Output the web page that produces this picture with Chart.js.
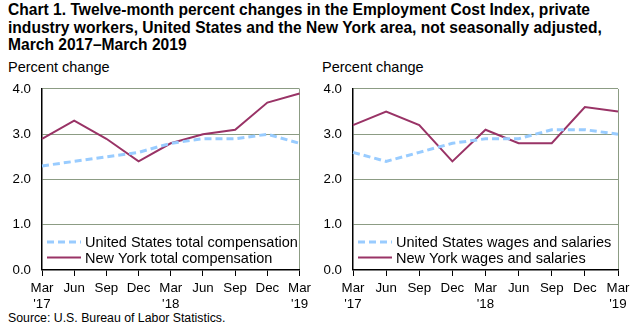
<!DOCTYPE html>
<html>
<head>
<meta charset="utf-8">
<script src="https://cdn.jsdelivr.net/npm/chart.js@4"></script>
<style>
  body { margin: 0; background: #fff; width: 639px; height: 329px; position: relative; overflow: hidden; font-family: "Liberation Sans", Arial, sans-serif; }
  #title { position: absolute; left: 8px; top: 1px; font-weight: bold; font-size: 15.6px; line-height: 17.5px; color: #000; }
  .ylab { position: absolute; top: 59px; font-size: 14.5px; color: #000; }
  #source { position: absolute; left: 8px; top: 311px; font-size: 12.3px; color: #000; }
  .box { position: absolute; top: 70px; height: 240px; }
</style>
</head>
<body>
<div id="title">Chart 1. Twelve-month percent changes in the Employment Cost Index, private<br>industry workers, United States and the New York area, not seasonally adjusted,<br>March 2017–March 2019</div>
<div class="ylab" style="left:8px">Percent change</div>
<div class="ylab" style="left:322px">Percent change</div>
<div class="box" style="left:0px;width:315px"><canvas id="leftChart"></canvas></div>
<div class="box" style="left:315px;width:324px"><canvas id="rightChart"></canvas></div>
<div id="source">Source: U.S. Bureau of Labor Statistics.</div>

<script>
// data
var quarters = [["Mar", "'17"], "Jun", "Sep", "Dec", ["Mar", "'18"], "Jun", "Sep", "Dec", ["Mar", "'19"]];
var yTicks = [0, 1, 2, 3, 4];

var usTotal = [2.3, 2.4, 2.5, 2.6, 2.8, 2.9, 2.9, 3.0, 2.8];
var nyTotal = [2.9, 3.3, 2.9, 2.4, 2.8, 3.0, 3.1, 3.7, 3.9];
var usWages = [2.6, 2.4, 2.6, 2.8, 2.9, 2.9, 3.1, 3.1, 3.0];
var nyWages = [3.2, 3.5, 3.2, 2.4, 3.1, 2.8, 2.8, 3.6, 3.5];

var blue = "#99CCFF";
var purple = "#993366";
var gridGreen = "#8C9C84";

// draws the legend inside the plot, bottom left
var innerLegend = {
  id: "innerLegend",
  afterDraw: function (chart) {
    var ctx = chart.ctx;
    var area = chart.chartArea;
    ctx.save();
    ctx.font = "14.5px 'Liberation Sans', Arial, sans-serif";
    ctx.textBaseline = "middle";
    chart.data.datasets.forEach(function (ds, i) {
      var y = area.bottom - 28 + i * 15.5;
      ctx.beginPath();
      ctx.strokeStyle = ds.borderColor;
      ctx.lineWidth = ds.borderWidth;
      ctx.setLineDash(ds.borderDash || []);
      ctx.moveTo(area.left + 5, y);
      ctx.lineTo(area.left + 39, y);
      ctx.stroke();
      ctx.setLineDash([]);
      ctx.fillStyle = "#000";
      ctx.fillText(ds.label, area.left + 43, y + 1);
    });
    ctx.restore();
  }
};

function makeChart(id, usData, nyData, usLabel, nyLabel, axisWidth, padRight) {
  return new Chart(id, {
    type: "line",
    data: {
      labels: quarters,
      datasets: [
        { label: usLabel, data: usData, borderColor: blue, borderWidth: 3, borderDash: [7, 4], pointRadius: 0, tension: 0 },
        { label: nyLabel, data: nyData, borderColor: purple, borderWidth: 2, pointRadius: 0, tension: 0 }
      ]
    },
    options: {
      responsive: true,
      maintainAspectRatio: false,
      animation: false,
      layout: { padding: { top: 0, right: padRight, left: 0, bottom: 0 } },
      plugins: { legend: { display: false }, tooltip: { enabled: false } },
      scales: {
        x: {
          offset: false,
          grid: {
            color: function (c) { return c.index === quarters.length - 1 ? gridGreen : "rgba(0,0,0,0)"; },
            tickColor: "#000",
            tickLength: 6,
            lineWidth: 1
          },
          border: { color: "#000", width: 1.5 },
          ticks: { color: "#000", font: { size: 13.3, family: "'Liberation Sans', Arial, sans-serif" }, maxRotation: 0, autoSkip: false, padding: 4 },
          afterFit: function (s) { s.height = 40; }
        },
        y: {
          min: 0,
          max: 4,
          afterBuildTicks: function (s) { s.ticks = yTicks.map(function (v) { return { value: v }; }); },
          grid: { color: gridGreen, drawTicks: false },
          border: { color: "#000", width: 1.5 },
          ticks: {
            color: "#000",
            padding: 11,
            font: { size: 13.3, family: "'Liberation Sans', Arial, sans-serif" },
            callback: function (v) { return v.toFixed(1); }
          },
          afterFit: function (s) { s.width = axisWidth; }
        }
      }
    },
    plugins: [innerLegend]
  });
}

makeChart("leftChart", usTotal, nyTotal, "United States total compensation", "New York total compensation", 42, 13);
makeChart("rightChart", usWages, nyWages, "United States wages and salaries", "New York wages and salaries", 38, 21);
</script>
</body>
</html>
